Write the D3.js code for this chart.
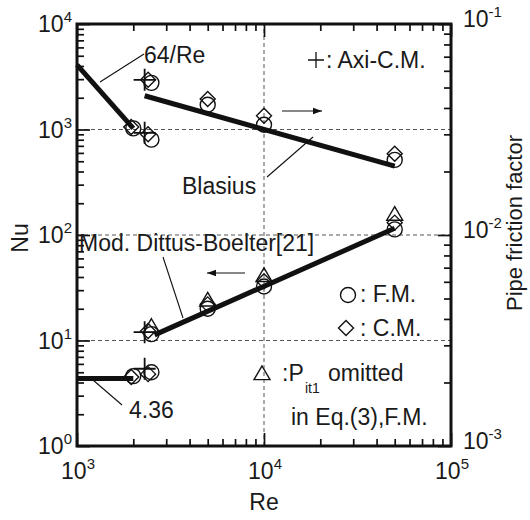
<!DOCTYPE html>
<html>
<head>
<meta charset="utf-8">
<script src="https://cdn.jsdelivr.net/npm/d3@7"></script>
<style>
  body { margin: 0; background: #fff; }
  text { font-family: "Liberation Sans", Arial, sans-serif; fill: #1a1a1a; }
</style>
</head>
<body>
<svg id="chart" width="530" height="520"></svg>
<script>
// data
const fmRe = [2000, 2500, 2500, 5000, 10000, 50000];
const fmFric = [0.032, 0.0526, 0.0283, 0.0414, 0.0333, 0.0227];
const fmNu = [4.6, 5.0, 11.5, 20, 32.5, 113];

const cmRe = [1950, 2400, 2400, 5000, 10000, 50000];
const cmFric = [0.0325, 0.0544, 0.0300, 0.0441, 0.0367, 0.0243];
const cmNu = [4.5, 4.8, 12.3, 22, 36.5, 131];

const triRe = [2500, 5000, 10000, 50000];
const triNu = [13.5, 24, 41, 156];

const axiRe = [2300, 2300];
const axiFric = [0.0544, 0.0305];
const axiNu = [5.4, 12];

// correlation lines (end points)
const lamFricRe = [1000, 2000];
const lamFric = [0.064, 0.032];
const blasiusRe = [2300, 50000];
const blasiusFric = [0.0457, 0.0212];
const dittusRe = [2600, 50000];
const dittusNu = [11.3, 116];
const lamNuRe = [1000, 2000];
const lamNu = [4.36, 4.36];

const FS = 23;
const svg = d3.select("#chart");

const x = d3.scaleLog().domain([1e3, 1e5]).range([77, 451]);
const yNu = d3.scaleLog().domain([1, 1e4]).range([446, 24]);
const yF = d3.scaleLog().domain([1e-3, 1e-1]).range([446, 24]);

const isMajor = (v) => Math.abs(Math.log10(v) - Math.round(Math.log10(v))) < 1e-6;

// dashed grid
const grid = svg.append("g")
  .attr("stroke", "#555")
  .attr("stroke-width", 1)
  .attr("stroke-dasharray", "4,3");
[10, 100, 1000].forEach((v) => {
  grid.append("line")
    .attr("x1", x(1e3)).attr("x2", x(1e5))
    .attr("y1", yNu(v)).attr("y2", yNu(v));
});
grid.append("line")
  .attr("x1", x(1e4)).attr("x2", x(1e4))
  .attr("y1", yNu(1)).attr("y2", yNu(1e4));

// ticks (all inward)
const tickSize = (v) => isMajor(v) ? 13 : 7;
const drawTicks = (axis, offset) => {
  const g = svg.append("g").attr("transform", offset);
  g.call(axis.tickFormat("").tickSizeOuter(0));
  g.select(".domain").remove();
  g.selectAll(".tick line")
    .attr("stroke", "#111")
    .attr("stroke-width", 1.7);
  return g;
};

const xTicks = x.ticks();
const nuTicks = yNu.ticks();
const fTicks = yF.ticks();

drawTicks(d3.axisTop(x).tickValues(xTicks), `translate(0,${yNu(1)})`)
  .selectAll(".tick line").attr("y2", (d) => -tickSize(d));
drawTicks(d3.axisBottom(x).tickValues(xTicks), `translate(0,${yNu(1e4)})`)
  .selectAll(".tick line").attr("y2", (d) => tickSize(d));
drawTicks(d3.axisRight(yNu).tickValues(nuTicks), `translate(${x(1e3)},0)`)
  .selectAll(".tick line").attr("x2", (d) => tickSize(d));
drawTicks(d3.axisLeft(yF).tickValues(fTicks), `translate(${x(1e5)},0)`)
  .selectAll(".tick line").attr("x2", (d) => -tickSize(d));

// frame
svg.append("rect")
  .attr("x", x(1e3)).attr("y", yNu(1e4))
  .attr("width", x(1e5) - x(1e3))
  .attr("height", yNu(1) - yNu(1e4))
  .attr("fill", "none")
  .attr("stroke", "#111")
  .attr("stroke-width", 3);

// power-of-ten labels
const powLabel = (px, py, exp, anchor) => {
  const t = svg.append("text")
    .attr("x", px).attr("y", py)
    .attr("text-anchor", anchor)
    .attr("font-size", FS);
  t.append("tspan").text("10");
  t.append("tspan").attr("font-size", 15).attr("dy", -10).text(exp);
};

nuTicks.filter(isMajor).forEach((v) => {
  powLabel(x(1e3) - 5, yNu(v) + 8, Math.round(Math.log10(v)), "end");
});
xTicks.filter(isMajor).forEach((v) => {
  powLabel(x(v) + 1, yNu(1) + 33, Math.round(Math.log10(v)), "middle");
});
fTicks.filter(isMajor).forEach((v) => {
  powLabel(x(1e5) + 12, yF(v) + 3, Math.round(Math.log10(v)), "start");
});

// axis titles
svg.append("text")
  .attr("transform", `translate(28,${yNu(100) + 3}) rotate(-90)`)
  .attr("text-anchor", "middle")
  .attr("font-size", FS)
  .text("Nu");
svg.append("text")
  .attr("x", x(1e4)).attr("y", 510)
  .attr("text-anchor", "middle")
  .attr("font-size", FS)
  .text("Re");
svg.append("text")
  .attr("transform", `translate(522,223) rotate(-90)`)
  .attr("text-anchor", "middle")
  .attr("font-size", 22)
  .text("Pipe friction factor");

// thick correlation lines
const thick = (res, vals, yScale) => {
  const pts = res.map((r, i) => [x(r), yScale(vals[i])]);
  svg.append("path")
    .attr("d", d3.line()(pts))
    .attr("fill", "none")
    .attr("stroke", "#111")
    .attr("stroke-width", 5);
};
thick(lamFricRe, lamFric, yF);
thick(blasiusRe, blasiusFric, yF);
thick(dittusRe, dittusNu, yNu);
thick(lamNuRe, lamNu, yNu);

// markers
const mk = svg.append("g")
  .attr("fill", "none")
  .attr("stroke", "#111")
  .attr("stroke-width", 1.4);

const circle = (cx, cy, r = 7.5) =>
  mk.append("circle").attr("cx", cx).attr("cy", cy).attr("r", r);
const diamond = (cx, cy, s = 7.5) =>
  mk.append("path").attr("d", `M${cx},${cy - s}L${cx + s},${cy}L${cx},${cy + s}L${cx - s},${cy}Z`);
const triangle = (cx, cy, s = 8) =>
  mk.append("path").attr("d", `M${cx},${cy - s}L${cx + s},${cy + s * 0.7}L${cx - s},${cy + s * 0.7}Z`);
const cross = (cx, cy, s = 11) =>
  mk.append("path").attr("stroke-width", 1.8)
    .attr("d", `M${cx - s},${cy}H${cx + s}M${cx},${cy - s}V${cy + s}`);

fmRe.forEach((r, i) => { circle(x(r), yF(fmFric[i])); circle(x(r), yNu(fmNu[i])); });
cmRe.forEach((r, i) => { diamond(x(r), yF(cmFric[i])); diamond(x(r), yNu(cmNu[i])); });
triRe.forEach((r, i) => triangle(x(r), yNu(triNu[i])));
axiRe.forEach((r, i) => { cross(x(r), yF(axiFric[i])); cross(x(r), yNu(axiNu[i])); });

// annotations
const note = (tx, ty, str, size = FS) =>
  svg.append("text").attr("x", tx).attr("y", ty).attr("font-size", size).text(str);
const thin = (x1, y1, x2, y2) =>
  svg.append("line")
    .attr("x1", x1).attr("y1", y1).attr("x2", x2).attr("y2", y2)
    .attr("stroke", "#111").attr("stroke-width", 1.1);
const arrow = (x1, x2, yy) => {
  thin(x1, yy, x2, yy);
  const d = x2 > x1 ? -1 : 1;
  svg.append("path")
    .attr("d", `M${x2},${yy}L${x2 + d * 9},${yy - 3.2}L${x2 + d * 9},${yy + 3.2}Z`)
    .attr("fill", "#111");
};

note(144, 63, "64/Re");
thin(100, 82, 144, 54);

cross(316, 60, 8).attr("stroke-width", 1.3);
note(326, 68, ": Axi-C.M.");
arrow(282, 322, 111);

note(182, 194, "Blasius");
thin(267, 177, 313, 137);

note(79, 251, "Mod. Dittus-Boelter[21]");
thin(163, 257, 183, 318);
arrow(245, 207, 273);

circle(348, 295, 7.5);
note(360, 302, ": F.M.");
diamond(346, 328, 7.5);
note(360, 336, ": C.M.");
triangle(262, 374, 8);
note(282, 381, ":P");
note(305, 393, "it1", 14);
note(328, 381, "omitted");
note(291, 425, "in Eq.(3),F.M.");

note(129, 418, "4.36");
thin(93, 380, 122, 405);
</script>
</body>
</html>
